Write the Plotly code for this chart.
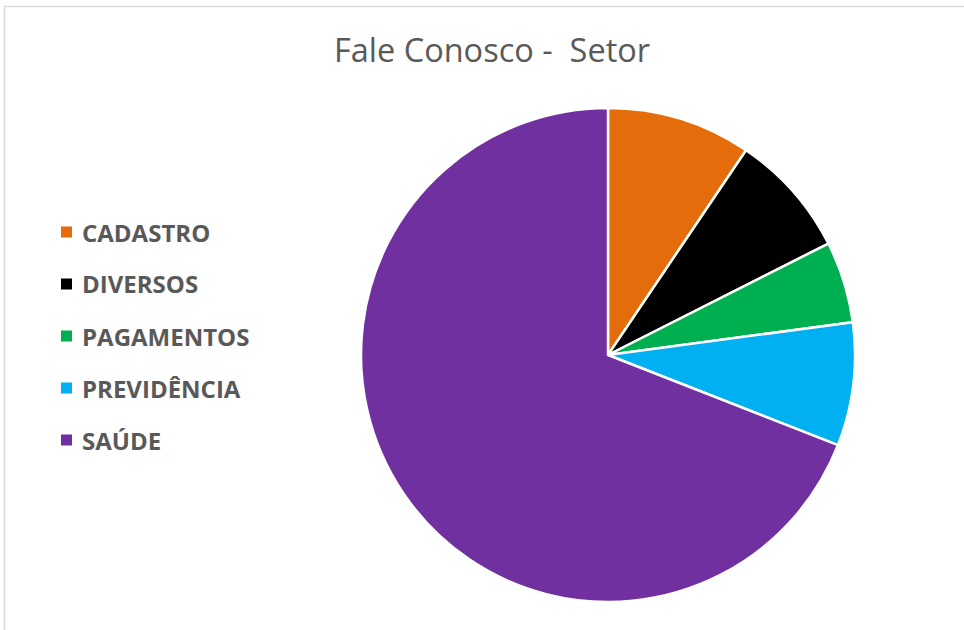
import plotly.graph_objects as go

labels = ["CADASTRO", "DIVERSOS", "PAGAMENTOS", "PREVIDÊNCIA", "SAÚDE"]
values = [9.44, 8.11, 5.33, 8.06, 69.06]
colors = ["#E46C0A", "#000000", "#00B050", "#00B0F0", "#7030A0"]
title_text = "Fale Conosco - \u00a0Setor"

W, H = 964, 630

fig = go.Figure()
fig.add_trace(go.Pie(
    labels=labels,
    values=values,
    sort=False,
    direction="clockwise",
    rotation=0,
    textinfo="none",
    hoverinfo="label+percent",
    marker=dict(colors=colors, line=dict(color="#FFFFFF", width=2.5)),
    domain=dict(x=[361 / W, 855 / W], y=[1 - 602 / H, 1 - 108 / H]),
    showlegend=False,
))

shapes = []
annotations = []
# manual legend
for i, (lab, col) in enumerate(zip(labels, colors)):
    yc = 232 + 52 * i
    shapes.append(dict(type="rect", xref="paper", yref="paper",
                       x0=61 / W, x1=72 / W, y0=1 - (yc + 5.5) / H, y1=1 - (yc - 5.5) / H,
                       fillcolor=col, line=dict(width=0)))
    annotations.append(dict(text="<b>" + lab + "</b>", xref="paper", yref="paper",
                            x=80 / W, y=1 - yc / H, xanchor="left", yanchor="middle",
                            showarrow=False,
                            font=dict(family="Open Sans", size=24, color="#595959")))

# chart frame (partially cropped)
shapes.append(dict(type="line", xref="paper", yref="paper",
                   x0=4.5 / W, x1=4.5 / W, y0=0, y1=1 - 6.5 / H,
                   line=dict(color="#D9D9D9", width=1.5)))
shapes.append(dict(type="line", xref="paper", yref="paper",
                   x0=4.5 / W, x1=1, y0=1 - 6.5 / H, y1=1 - 6.5 / H,
                   line=dict(color="#D9D9D9", width=1.5)))

fig.update_layout(
    width=W, height=H,
    margin=dict(l=0, r=0, t=0, b=0),
    paper_bgcolor="#FFFFFF",
    plot_bgcolor="#FFFFFF",
    title=dict(text=title_text, x=492 / W, y=1 - 51 / H, xanchor="center", yanchor="middle",
               font=dict(family="Open Sans", size=32.5, color="#595959")),
    shapes=shapes,
    annotations=annotations,
)

fig.write_html("out.html",
               config={"displayModeBar": False},
               post_script="document.body.style.margin='0';document.body.style.overflow='hidden';")
